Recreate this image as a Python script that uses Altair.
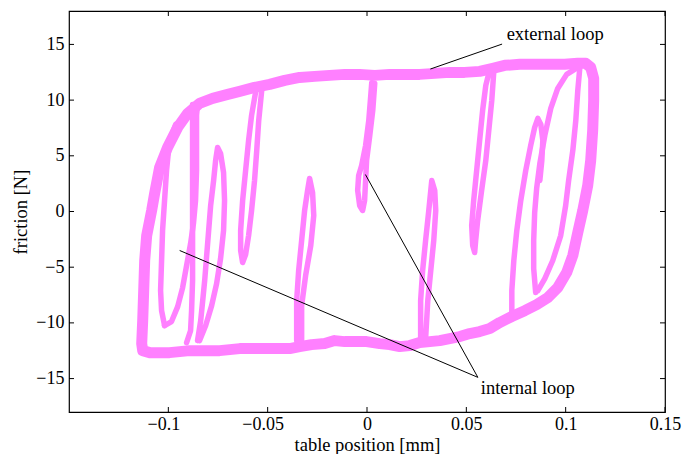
import altair as alt
import pandas as pd

PINK = "#ff80ff"
FONT = "Liberation Serif"

X_TICKS = [-0.1, -0.05, 0, 0.05, 0.1, 0.15]
Y_TICKS = [-15, -10, -5, 0, 5, 10, 15]

# external loop (left side, top branch, right side, bottom branch)
OUTER_X = [-0.1094, -0.1129, -0.1134, -0.1129, -0.1124, -0.1119, -0.1109, -0.1084, -0.1069, -0.1044,
           -0.1004, -0.0953, -0.0903, -0.0843, -0.0777, -0.0701, -0.0641, -0.0566, -0.0490, -0.0414,
           -0.0339, -0.0263, -0.0188, -0.0112, -0.0037, 0.0039, 0.0114, 0.0190, 0.0265, 0.0341,
           0.0416, 0.0491, 0.0567, 0.0633, 0.0693, 0.0769, 0.0844, 0.0920, 0.0995, 0.1061,
           0.1101, 0.1126, 0.1141, 0.1141, 0.1136, 0.1126, 0.1111, 0.1086, 0.1061, 0.1036,
           0.1005, 0.0960, 0.0910, 0.0854, 0.0794, 0.0729, 0.0668, 0.0618, 0.0567, 0.0517,
           0.0467, 0.0416, 0.0366, 0.0316, 0.0265, 0.0215, 0.0165, 0.0114, 0.0064, -0.0002,
           -0.0062, -0.0112, -0.0163, -0.0213, -0.0279, -0.0339, -0.0389, -0.0440, -0.0490, -0.0540,
           -0.0591, -0.0641, -0.0691, -0.0742, -0.0792, -0.0843, -0.0893, -0.0943, -0.0994, -0.1044,
           -0.1094]
OUTER_Y = [-12.67, -12.49, -11.86, -9.79, -7.10, -4.40, -2.16, 0.09, 1.62, 3.95,
           5.75, 7.55, 8.81, 9.70, 10.15, 10.51, 10.78, 11.14, 11.41, 11.77,
           12.04, 12.13, 12.22, 12.31, 12.31, 12.22, 12.31, 12.31, 12.31, 12.40,
           12.49, 12.49, 12.58, 12.85, 13.12, 13.21, 13.21, 13.21, 13.21, 13.30,
           13.30, 12.94, 11.95, 9.97, 7.28, 4.58, 2.34, 0.09, -1.89, -3.95,
           -5.48, -6.83, -7.73, -8.36, -8.90, -9.43, -9.97, -10.51, -10.78, -10.96,
           -11.23, -11.41, -11.59, -11.68, -11.77, -12.04, -12.13, -11.95, -11.86, -11.68,
           -11.68, -11.68, -11.59, -11.86, -11.95, -12.13, -12.31, -12.31, -12.31, -12.31,
           -12.31, -12.31, -12.40, -12.49, -12.49, -12.49, -12.49, -12.58, -12.67, -12.67,
           -12.67]

# internal loops (left group)
LB_X = [-0.0963, -0.0984, -0.0999, -0.1009, -0.1019, -0.1029, -0.1034, -0.1039, -0.1034, -0.1019]
LB_Y = [7.82, 6.83, 5.48, 3.68, 0.99, -1.71, -4.40, -7.10, -8.90, -10.24]
LC_X = [-0.1019, -0.0984, -0.0953, -0.0928, -0.0908, -0.0888, -0.0873, -0.0863, -0.0858, -0.0858, -0.0858, -0.0853]
LC_Y = [-10.24, -9.88, -8.54, -6.83, -4.85, -2.88, -0.99, 0.99, 3.68, 6.38, 8.63, 9.61]
LE_X = [-0.0878, -0.0878, -0.0878, -0.0878, -0.0878, -0.0878, -0.0878, -0.0883, -0.0888, -0.0908]
LE_Y = [9.61, 7.28, 4.58, 1.89, -0.81, -3.50, -6.20, -8.90, -10.69, -11.77]
LD_X = [-0.0853, -0.0837, -0.0827, -0.0817, -0.0807, -0.0797, -0.0787, -0.0772, -0.0762, -0.0752,
        -0.0737, -0.0722, -0.0717, -0.0722, -0.0737, -0.0757, -0.0782, -0.0812, -0.0843]
LD_Y = [-11.59, -9.79, -8.00, -6.20, -3.95, -1.71, 0.54, 2.79, 4.58, 5.75,
        5.21, 3.50, 0.99, -1.71, -4.22, -6.47, -8.45, -10.24, -11.59]

# internal loops (middle)
M4_X = [-0.0530, -0.0545, -0.0555, -0.0566, -0.0581, -0.0596, -0.0611, -0.0626, -0.0636, -0.0636,
        -0.0626, -0.0611, -0.0596, -0.0581, -0.0561]
M4_Y = [10.87, 8.18, 5.48, 2.79, 0.09, -2.16, -3.86, -4.58, -3.50, -1.71,
        0.99, 3.68, 6.38, 8.63, 10.69]
M3_X = [-0.0354, -0.0354, -0.0344, -0.0329, -0.0314, -0.0299, -0.0289, -0.0274, -0.0268, -0.0283,
        -0.0309, -0.0329, -0.0329]
M3_Y = [-11.59, -8.00, -5.30, -2.61, 0.09, 1.89, 2.97, 1.71, -0.36, -3.05,
        -5.75, -8.45, -11.59]
M1_X = [0.0039, 0.0029, 0.0014, -0.0002, -0.0007, -0.0012, -0.0022, -0.0037, -0.0047, -0.0042,
        -0.0027, -0.0007, 0.0009, 0.0019, 0.0024]
M1_Y = [11.50, 9.07, 6.83, 4.58, 2.79, 0.99, 0.09, 0.54, 1.89, 3.23,
        4.13, 5.93, 8.18, 10.42, 11.59]
M2_X = [0.0270, 0.0270, 0.0280, 0.0295, 0.0311, 0.0321, 0.0326, 0.0341, 0.0346, 0.0336,
        0.0321, 0.0306, 0.0295]
M2_Y = [-11.41, -8.00, -5.30, -2.61, 0.09, 1.89, 2.79, 1.89, 0.09, -2.61,
        -5.30, -8.00, -11.41]

# internal loops (right group)
R5_X = [0.0638, 0.0628, 0.0613, 0.0598, 0.0577, 0.0557, 0.0547, 0.0542, 0.0532, 0.0527,
        0.0537, 0.0552, 0.0567, 0.0582, 0.0598, 0.0613]
R5_Y = [12.49, 9.97, 7.28, 4.58, 1.89, -0.81, -2.61, -3.68, -3.05, -1.26,
        0.99, 3.68, 6.38, 9.07, 11.32, 12.40]
R2_X = [0.1071, 0.1061, 0.1051, 0.1036, 0.1015, 0.1000, 0.0975, 0.0935, 0.0895, 0.0860]
R2_Y = [12.85, 10.87, 8.18, 5.48, 2.79, 0.54, -2.16, -4.40, -6.02, -7.10]
R3_X = [0.0849, 0.0839, 0.0839, 0.0844, 0.0854, 0.0870, 0.0895, 0.0925, 0.0960, 0.1005, 0.1061]
R3_Y = [-7.28, -5.12, -2.61, -0.09, 2.07, 4.31, 6.83, 9.25, 11.05, 12.31, 12.94]
R4_X = [0.0729, 0.0729, 0.0739, 0.0754, 0.0774, 0.0799, 0.0824, 0.0844, 0.0860, 0.0875, 0.0885, 0.0880, 0.0870]
R4_Y = [-9.61, -7.10, -4.40, -1.71, 0.99, 3.68, 5.93, 7.55, 8.36, 7.82, 6.38, 4.58, 2.79]

# annotations
ANN_SEG = ["ext", "ext", "int1", "int1", "int2", "int2"]
ANN_X = [0.0319, 0.0680, 0.0558, -0.0943, 0.0558, -0.0008]
ANN_Y = [12.79, 15.03, -14.89, -3.50, -14.89, 3.32]
LABELS = ["external loop", "internal loop"]
LABEL_X = [0.0703, 0.0573]
LABEL_Y = [15.43, -16.38]

W, H = 596, 401

inner_segments = {
    "LB": (LB_X, LB_Y), "LC": (LC_X, LC_Y), "LE": (LE_X, LE_Y), "LD": (LD_X, LD_Y),
    "M4": (M4_X, M4_Y), "M3": (M3_X, M3_Y), "M1": (M1_X, M1_Y), "M2": (M2_X, M2_Y),
    "R5": (R5_X, R5_Y), "R2": (R2_X, R2_Y), "R3": (R3_X, R3_Y), "R4": (R4_X, R4_Y),
}
rows = []
for name, (xs, ys) in inner_segments.items():
    for i, (a, b) in enumerate(zip(xs, ys)):
        rows.append({"seg": name, "ord": i, "x": a, "y": b})
df_inner = pd.DataFrame(rows)
df_outer = pd.DataFrame({"ord": range(len(OUTER_X)), "x": OUTER_X, "y": OUTER_Y})
df_ann = pd.DataFrame({"seg": ANN_SEG, "ord": [0, 1, 0, 1, 0, 1], "x": ANN_X, "y": ANN_Y})
df_lab = pd.DataFrame({"label": LABELS, "x": LABEL_X, "y": LABEL_Y})
df_xt = pd.DataFrame({"x": X_TICKS})
df_yt = pd.DataFrame({"y": Y_TICKS})

X = alt.X("x:Q",
          scale=alt.Scale(domain=[-0.15, 0.15], nice=False, zero=False),
          axis=alt.Axis(values=X_TICKS, labelExpr="format(datum.value, '~g')",
                        title="table position [mm]",
                        domain=False, ticks=False, grid=False, labelPadding=3, labelFlush=False,
                        labelOverlap=False,
                        labelOffset={"condition": {"test": "datum.value < 0", "value": -5}, "value": 0},
                        labelFont=FONT, labelFontSize=18, labelColor="black",
                        titleFont=FONT, titleFontSize=18.5, titleColor="black", titleFontWeight="normal",
                        titleY=38.5, titleBaseline="alphabetic"))
Y = alt.Y("y:Q",
          scale=alt.Scale(domain=[-18, 18], nice=False, zero=False),
          axis=alt.Axis(values=Y_TICKS, labelExpr="format(datum.value, '~g')", title="friction [N]",
                        domain=False, ticks=False, grid=False, labelPadding=5, labelFlush=False,
                        labelFont=FONT, labelFontSize=18, labelColor="black",
                        titleFont=FONT, titleFontSize=18.5, titleColor="black", titleFontWeight="normal",
                        titleX=-43, titleBaseline="alphabetic"))

outer = alt.Chart(df_outer).mark_line(color=PINK, strokeWidth=11, strokeCap="round",
                                       strokeJoin="round").encode(X, Y, order="ord:Q")
inner = alt.Chart(df_inner).mark_line(color=PINK, strokeWidth=5.5, strokeCap="round",
                                       strokeJoin="round").encode(X, Y, detail="seg:N", order="ord:Q")
ann = alt.Chart(df_ann).mark_line(color="black", strokeWidth=1).encode(X, Y, detail="seg:N", order="ord:Q")
lab = alt.Chart(df_lab).mark_text(align="left", baseline="alphabetic", font=FONT, fontSize=18.5,
                                  color="black").encode(X, Y, text="label:N")
xt_bot = alt.Chart(df_xt).mark_rule(color="black").encode(X, y=alt.value(H), y2=alt.value(H - 5))
xt_top = alt.Chart(df_xt).mark_rule(color="black").encode(X, y=alt.value(0), y2=alt.value(5))
yt_left = alt.Chart(df_yt).mark_rule(color="black").encode(Y, x=alt.value(0), x2=alt.value(5))
yt_right = alt.Chart(df_yt).mark_rule(color="black").encode(Y, x=alt.value(W), x2=alt.value(W - 5))

chart = alt.layer(outer, inner, ann, lab, xt_bot, xt_top, yt_left, yt_right).properties(
    width=W, height=H,
    background="white",
    autosize=alt.AutoSizeParams(type="none"),
    padding={"left": 69, "top": 11, "right": 17, "bottom": 42},
).configure_view(stroke="black", strokeWidth=1.2)

chart.save("out.html", embed_options={"renderer": "svg", "actions": False})
